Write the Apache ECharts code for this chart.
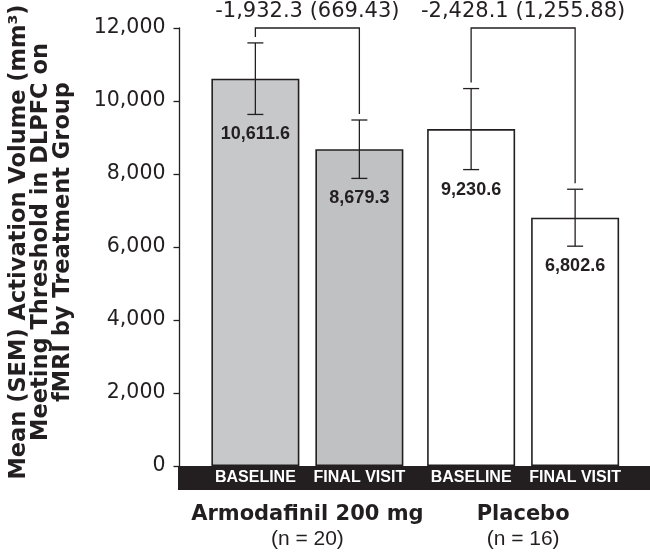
<!DOCTYPE html>
<html>
<head>
<meta charset="utf-8">
<script src="https://cdn.jsdelivr.net/npm/echarts@6/dist/echarts.min.js"></script>
<style>
  html, body { margin: 0; padding: 0; background: #ffffff; }
  #chart { width: 650px; height: 555px; }
</style>
</head>
<body>
<div id="chart"></div>
<script>
// ---- data ----
const GROUPS = ['Armodafinil 200 mg', 'Placebo'];
const GROUP_N = ['(n = 20)', '(n = 16)'];
const VISITS = ['BASELINE', 'FINAL VISIT'];
const BASELINE_MEAN = [10611.6, 9230.6];
const BASELINE_SEM = [980, 1110];
const FINAL_MEAN = [8679.3, 6802.6];
const FINAL_SEM = [800, 780];
const CHANGE_MEAN = [-1932.3, -2428.1];
const CHANGE_SE = [669.43, 1255.88];
const Y_MIN = 0, Y_MAX = 12000, Y_STEP = 2000;
const Y_TITLE = ['Mean (SEM) Activation Volume (mm\u00B3)', 'Meeting Threshold in DLPFC on', 'fMRI by Treatment Group'];

// ---- style / layout ----
const INK = '#231f20';
const GROUP_COLORS = [['#c7c8ca', '#c0c1c3'], ['#ffffff', '#ffffff']];
const BAR_W = 88, BAR_GAP_PX = 16;
const HALF = (BAR_W + BAR_GAP_PX) / 2;
const CAP = 8;
const LEG_GAP = 6;
const GRID_LEFT = 198, GRID_RIGHT = 19, GRID_TOP = 28, GRID_BOTTOM = 89;
const Y_OFFSET = 20;
const BAND_H = 24;

const fmt = (v, d) => v.toLocaleString('en-US', { minimumFractionDigits: d, maximumFractionDigits: d });

const MEANS = [BASELINE_MEAN, FINAL_MEAN];
const SEMS = [BASELINE_SEM, FINAL_SEM];

const errData = [];
GROUPS.forEach((g, gi) => {
  VISITS.forEach((v, vi) => {
    errData.push([gi, vi, MEANS[vi][gi], SEMS[vi][gi]]);
  });
});
const bracketData = GROUPS.map((g, gi) => [gi, Y_MAX]);

const chart = echarts.init(document.getElementById('chart'), null, { renderer: 'canvas' });

const barSeries = VISITS.map((name, vi) => ({
  type: 'bar',
  name: name,
  barWidth: BAR_W,
  barGap: (BAR_GAP_PX / BAR_W * 100).toFixed(2) + '%',
  data: GROUPS.map((g, gi) => ({
    value: MEANS[vi][gi],
    itemStyle: { color: GROUP_COLORS[gi][vi] }
  })),
  itemStyle: { borderColor: INK, borderWidth: 1.6 },
  label: {
    show: true,
    position: 'bottom',
    distance: 4,
    formatter: '{a}',
    color: '#ffffff',
    fontFamily: 'Liberation Sans',
    fontWeight: 'bold',
    fontSize: 16
  },
  emphasis: { disabled: true },
  z: 2
}));

const option = {
  animation: false,
  backgroundColor: '#ffffff',
  grid: { left: GRID_LEFT, right: GRID_RIGHT, top: GRID_TOP, bottom: GRID_BOTTOM },
  xAxis: {
    type: 'category',
    data: GROUPS,
    axisLine: { show: false },
    axisTick: { show: false },
    axisLabel: {
      margin: 37,
      formatter: (val, idx) => '{g|' + val + '}\n{n|' + GROUP_N[idx] + '}',
      rich: {
        g: { fontFamily: 'DejaVu Sans', fontWeight: 'bold', fontSize: 21, lineHeight: 24, color: INK },
        n: { fontFamily: 'Liberation Sans', fontSize: 21, lineHeight: 24, color: INK }
      }
    }
  },
  yAxis: {
    type: 'value',
    min: Y_MIN, max: Y_MAX, interval: Y_STEP,
    offset: Y_OFFSET,
    splitLine: { show: false },
    axisLine: { show: true, lineStyle: { color: INK, width: 1.3 } },
    axisTick: { show: true, length: 6, lineStyle: { color: INK, width: 1.3 } },
    axisLabel: {
      margin: 14,
      color: INK,
      fontFamily: 'DejaVu Sans',
      fontSize: 20.5,
      formatter: v => fmt(v, 0)
    },
    name: Y_TITLE.join('\n'),
    nameLocation: 'middle',
    nameRotate: 90,
    nameGap: 105,
    nameTextStyle: {
      fontFamily: 'DejaVu Sans', fontWeight: 'bold', fontSize: 22.5, lineHeight: 22,
      color: INK, align: 'center', padding: [0, 0, 0, 10]
    }
  },
  series: [
    ...barSeries,
    {
      type: 'custom',
      name: 'sem',
      data: errData,
      encode: { x: 0, y: 2 },
      z: 3,
      renderItem: (params, api) => {
        const g = api.value(0), v = api.value(1), m = api.value(2), s = api.value(3);
        const x = api.coord([g, m])[0] + (v === 0 ? -HALF : HALF);
        const yT = api.coord([g, m + s])[1];
        const yB = api.coord([g, m - s])[1];
        const ls = { stroke: INK, lineWidth: 1.3 };
        return {
          type: 'group',
          children: [
            { type: 'line', shape: { x1: x, y1: yT, x2: x, y2: yB }, style: ls },
            { type: 'line', shape: { x1: x - CAP, y1: yT, x2: x + CAP, y2: yT }, style: ls },
            { type: 'line', shape: { x1: x - CAP, y1: yB, x2: x + CAP, y2: yB }, style: ls },
            { type: 'text', style: {
                text: fmt(m, 1), x: x, y: yB + 20, align: 'center', verticalAlign: 'middle',
                fontFamily: 'Liberation Sans', fontWeight: 'bold', fontSize: 18, fill: INK } }
          ]
        };
      }
    },
    {
      type: 'custom',
      name: 'change',
      data: bracketData,
      encode: { x: 0, y: 1 },
      z: 3,
      renderItem: (params, api) => {
        const gi = params.dataIndex;
        const g = api.value(0);
        const top = api.coord([g, api.value(1)]);
        const xL = top[0] - HALF, xR = top[0] + HALF;
        const yL = api.coord([g, BASELINE_MEAN[gi] + BASELINE_SEM[gi]])[1] - LEG_GAP;
        const yR = api.coord([g, FINAL_MEAN[gi] + FINAL_SEM[gi]])[1] - LEG_GAP;
        return {
          type: 'group',
          children: [
            { type: 'polyline', shape: { points: [[xL, yL], [xL, top[1]], [xR, top[1]], [xR, yR]] },
              style: { stroke: INK, lineWidth: 1.3, fill: null } },
            { type: 'text', style: {
                text: fmt(CHANGE_MEAN[gi], 1) + ' (' + fmt(CHANGE_SE[gi], 2) + ')',
                x: top[0], y: top[1] - 16, align: 'center', verticalAlign: 'middle',
                fontFamily: 'DejaVu Sans', fontSize: 21, fill: INK } }
          ]
        };
      }
    }
  ]
};

chart.setOption(option);

const y0 = chart.convertToPixel({ yAxisIndex: 0 }, Y_MIN);
const bandLeft = GRID_LEFT - Y_OFFSET;
chart.setOption({
  graphic: [{
    type: 'rect',
    z: 1,
    shape: { x: bandLeft, y: y0, width: chart.getWidth() - bandLeft, height: BAND_H },
    style: { fill: INK }
  }]
});
</script>
</body>
</html>
